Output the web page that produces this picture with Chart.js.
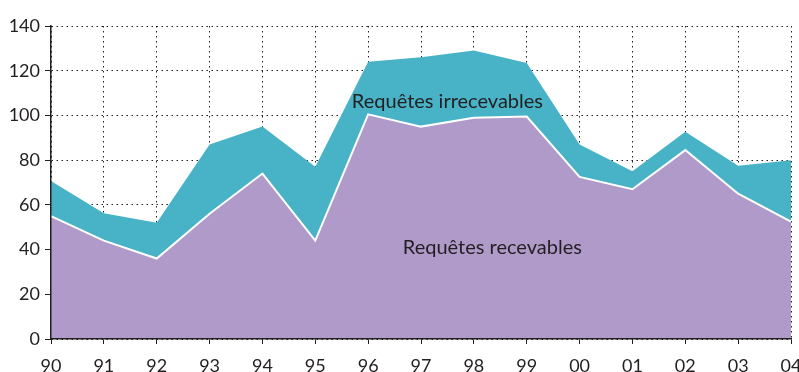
<!DOCTYPE html>
<html>
<head>
<meta charset="utf-8">
<title>Requêtes</title>
<script src="https://cdn.jsdelivr.net/npm/chart.js@4"></script>
<style>
  html, body { margin: 0; padding: 0; background: #ffffff; }
  #wrap { width: 799px; height: 372px; }
</style>
</head>
<body>
<div id="wrap"><canvas id="requetesChart" width="799" height="372"></canvas></div>
<script>
// Years on the x axis (two digits, as printed)
const years = ["90", "91", "92", "93", "94", "95", "96", "97", "98", "99", "00", "01", "02", "03", "04"];

// Admissible requests (bottom layer)
const recevables = [55, 44, 36, 56, 74, 44, 100.5, 95, 99, 99.5, 72.5, 67, 84.5, 65, 52.5];

// Inadmissible requests, stacked on top
const irrecevables = [15.7, 12.3, 16, 31, 21, 33, 23.5, 31, 30, 24, 14.5, 8, 8.2, 12.5, 27.5];

const yTicks = [0, 20, 40, 60, 80, 100, 120, 140];

// Area labels: [text, x position (category index), y value]
const areaLabels = [
    ["Requêtes irrecevables", 7.5, 106.4],
    ["Requêtes recevables", 8.35, 40.7]
];

const INK = "#231f20";
const FONT = "Lato, 'Open Sans', sans-serif";

// Writes the two area names inside the stacked areas
const areaLabelPlugin = {
    id: "areaLabels",
    afterDatasetsDraw(chart) {
        const { ctx, scales } = chart;
        ctx.save();
        ctx.fillStyle = INK;
        ctx.font = "20px " + FONT;
        ctx.textAlign = "center";
        ctx.textBaseline = "middle";
        areaLabels.forEach(([text, idx, val]) => {
            ctx.fillText(text, scales.x.getPixelForValue(idx), scales.y.getPixelForValue(val));
        });
        ctx.restore();
    }
};

const ctx = document.getElementById("requetesChart").getContext("2d");

new Chart(ctx, {
    type: "line",
    data: {
        labels: years,
        datasets: [
            {
                label: "Requêtes recevables",
                data: recevables,
                fill: "origin",
                backgroundColor: "rgb(176,154,201)",
                borderColor: "#ffffff",
                borderWidth: 2,
                pointRadius: 0,
                tension: 0
            },
            {
                label: "Requêtes irrecevables",
                data: irrecevables,
                fill: "-1",
                backgroundColor: "rgb(72,179,199)",
                borderColor: "rgb(72,179,199)",
                borderWidth: 0,
                pointRadius: 0,
                tension: 0
            }
        ]
    },
    options: {
        responsive: false,
        animation: false,
        layout: { padding: { top: 26, right: 8, left: 0, bottom: 0 } },
        plugins: {
            legend: { display: false },
            tooltip: { enabled: false }
        },
        scales: {
            x: {
                offset: false,
                grid: {
                    color: INK,
                    lineWidth: 1,
                    tickLength: 5,
                    tickColor: INK,
                    tickBorderDash: []
                },
                border: { display: true, color: INK, width: 1.5, dash: [1.5, 3.5], z: 1 },
                ticks: {
                    color: INK,
                    font: { family: FONT, size: 18 },
                    padding: 11,
                    maxRotation: 0,
                    autoSkip: false
                },
                afterFit(scale) {
                    scale.height = 33;
                    scale.paddingLeft = 0;
                    scale.paddingRight = 0;
                }
            },
            y: {
                stacked: true,
                min: 0,
                max: 140,
                afterBuildTicks(scale) {
                    scale.ticks = yTicks.map(v => ({ value: v }));
                },
                grid: {
                    color: INK,
                    lineWidth: 1,
                    tickLength: 6,
                    tickColor: INK,
                    tickBorderDash: []
                },
                border: { display: true, color: INK, width: 1.5, dash: [1.5, 3.5], z: 1 },
                ticks: {
                    color: INK,
                    font: { family: FONT, size: 18 },
                    padding: 5
                },
                afterFit(scale) {
                    scale.width = 51;
                }
            }
        }
    },
    plugins: [areaLabelPlugin]
});
</script>
</body>
</html>
